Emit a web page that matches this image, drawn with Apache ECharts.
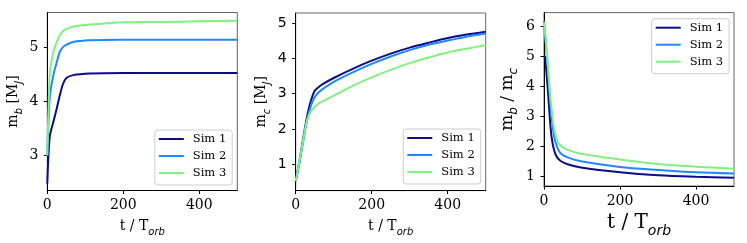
<!DOCTYPE html>
<html>
<head>
<meta charset="utf-8">
<script src="https://cdn.jsdelivr.net/npm/echarts@6/dist/echarts.min.js"></script>
<style>
html,body{margin:0;padding:0;background:#fff;}
#c{width:747px;height:243px;}
</style>
</head>
<body>
<div id="c"></div>
<script>
// ---- data (t in orbits) ----
const simNames = ['Sim 1', 'Sim 2', 'Sim 3'];
const simColors = ['#0c0c85', '#1e88ff', '#80f080'];
const xTicks = [0, 200, 400];

// Panel 1: m_b [M_J]
const tB1 = [0, 3, 7, 16, 25, 33, 42, 51, 68, 112, 200, 300, 400, 500];
const mB1 = [2.48, 3.0, 3.37, 3.62, 3.87, 4.11, 4.33, 4.43, 4.48, 4.51, 4.52, 4.52, 4.52, 4.52];
const tB2 = [0, 3, 7, 16, 25, 33, 42, 51, 68, 112, 191, 300, 400, 500];
const mB2 = [3.0, 3.6, 4.11, 4.48, 4.72, 4.91, 5.0, 5.04, 5.09, 5.12, 5.13, 5.13, 5.13, 5.13];
const tB3 = [0, 3, 7, 16, 25, 33, 42, 51, 68, 112, 191, 300, 400, 500];
const mB3 = [3.0, 3.8, 4.54, 4.91, 5.09, 5.22, 5.29, 5.33, 5.37, 5.41, 5.45, 5.46, 5.47, 5.48];
const yTicksB = [3, 4, 5];

// Panel 2: m_c [M_J]
const tC = [0, 10, 20, 30, 40, 50, 60, 70, 100, 150, 200, 250, 300, 350, 400, 450, 500];
const mC1 = [0.52, 1.1, 1.75, 2.35, 2.8, 3.08, 3.18, 3.26, 3.44, 3.70, 3.93, 4.13, 4.30, 4.44, 4.57, 4.67, 4.75];
const mC2 = [0.52, 1.05, 1.65, 2.25, 2.65, 2.9, 3.03, 3.12, 3.33, 3.60, 3.84, 4.05, 4.23, 4.38, 4.50, 4.61, 4.70];
const mC3 = [0.52, 1.1, 1.7, 2.25, 2.5, 2.62, 2.71, 2.78, 2.94, 3.22, 3.46, 3.67, 3.86, 4.02, 4.16, 4.27, 4.37];
const yTicksC = [1, 2, 3, 4, 5];

// Panel 3: m_b / m_c
const tR1 = [0, 2.6, 10, 15, 20, 27, 35, 45, 62, 97, 200, 300, 400, 500];
const r1 = [5.0, 4.98, 3.9, 3.0, 2.3, 1.85, 1.62, 1.5, 1.4, 1.29, 1.13, 1.03, 0.98, 0.95];
const tR2 = [0, 5, 10, 15, 20, 27, 36, 45, 62, 97, 200, 300, 400, 500];
const r2 = [6.17, 5.4, 4.6, 3.7, 3.0, 2.3, 1.93, 1.75, 1.63, 1.5, 1.31, 1.21, 1.13, 1.09];
const tR3 = [0, 5, 10, 15, 20, 27, 36, 45, 62, 97, 200, 300, 400, 500];
const r3 = [6.12, 5.5, 4.75, 3.9, 3.25, 2.55, 2.15, 2.01, 1.88, 1.75, 1.56, 1.41, 1.32, 1.25];
const yTicksR = [1, 2, 3, 4, 5, 6];

// ---- build ----
const zip = (t, v) => t.map((x, i) => [x, v[i]]);
const SERIF = 'DejaVu Serif';
const SANS = 'DejaVu Sans';

function lbl(size, subSize) {
  const lh = Math.round(size * 1.25);
  return {
    a: {fontFamily: SERIF, fontSize: size, color: '#000', verticalAlign: 'top', lineHeight: lh},
    s: {fontFamily: SANS, fontStyle: 'italic', fontSize: subSize, color: '#000', verticalAlign: 'bottom', lineHeight: lh}
  };
}

const grids = [
  {left: 47.3, top: 12.5, width: 190, height: 178},
  {left: 295.7, top: 13, width: 190, height: 177.6},
  {left: 544, top: 12.6, width: 190, height: 177.6}
].map(g => Object.assign(g, {show: true, borderColor: '#666', borderWidth: 1, backgroundColor: 'transparent'}));

function xAxis(i, nameSize, subSize, gap) {
  return {
    type: 'value', gridIndex: i, min: 0, max: 500,
    name: '{a|t / T}{s|orb}', nameLocation: 'middle', nameGap: gap,
    nameTextStyle: {rich: lbl(nameSize, subSize)},
    axisLine: {show: true, lineStyle: {color: '#000', width: 1}},
    axisTick: {show: true, length: 3.5, lineStyle: {color: '#000'}, customValues: xTicks},
    axisLabel: {fontFamily: SERIF, fontSize: 14, color: '#000', margin: 8, customValues: xTicks},
    splitLine: {show: false}
  };
}
function yAxis(i, min, max, ticks, name, nameSize, subSize, gap, tickFont) {
  return {
    type: 'value', gridIndex: i, min: min, max: max,
    name: name, nameLocation: 'middle', nameGap: gap, nameRotate: 90,
    nameTextStyle: {rich: lbl(nameSize, subSize)},
    axisLine: {show: true, lineStyle: {color: '#000', width: 1}},
    axisTick: {show: true, length: 3.5, lineStyle: {color: '#000'}, customValues: ticks},
    axisLabel: {fontFamily: tickFont, fontSize: 14, color: '#000', margin: 9, customValues: ticks},
    splitLine: {show: false}
  };
}

const panels = [
  [zip(tB1, mB1), zip(tB2, mB2), zip(tB3, mB3)],
  [zip(tC, mC1), zip(tC, mC2), zip(tC, mC3)],
  [zip(tR1, r1), zip(tR2, r2), zip(tR3, r3)]
];
const series = [];
panels.forEach((p, gi) => p.forEach((d, si) => series.push({
  type: 'line', name: simNames[si], xAxisIndex: gi, yAxisIndex: gi, data: d,
  showSymbol: false, symbol: 'none', smooth: 0.3,
  lineStyle: {width: 2, color: simColors[si]}, itemStyle: {color: simColors[si]},
  z: 2 + si, silent: true, animation: false, clip: true
})));

function legend(left, top) {
  return {
    left: left, top: top, orient: 'vertical', data: simNames, selectedMode: false,
    icon: 'rect', itemWidth: 25, itemHeight: 2, itemGap: 5,
    padding: [3, 6, 6, 4], borderColor: '#ccc', borderWidth: 1, borderRadius: 3,
    backgroundColor: 'rgba(255,255,255,0.85)',
    textStyle: {fontFamily: SERIF, fontSize: 11.5, color: '#000', lineHeight: 12, padding: [0, 0, 0, 4]}
  };
}

const option = {
  animation: false,
  backgroundColor: '#fff',
  grid: grids,
  xAxis: [xAxis(0, 14, 10, 29), xAxis(1, 14, 10, 29), xAxis(2, 20, 14, 27)],
  yAxis: [
    yAxis(0, 2.355, 5.633, yTicksB, '{a|m}{s|b}{a| [M}{s|J}{a|]}', 14, 10, 23, SERIF),
    yAxis(1, 0.253, 5.28, yTicksC, '{a|m}{s|c}{a| [M}{s|J}{a|]}', 14, 10, 23, SANS),
    yAxis(2, 0.674, 6.457, yTicksR, '{a|m}{s|b}{a| / m}{s|c}', 17, 12, 24, SERIF)
  ],
  legend: [legend(154.8, 130), legend(403.3, 129), legend(651.7, 18.7)],
  series: series
};

const chart = echarts.init(document.getElementById('c'), null, {renderer: 'canvas'});
chart.setOption(option);
</script>
</body>
</html>
